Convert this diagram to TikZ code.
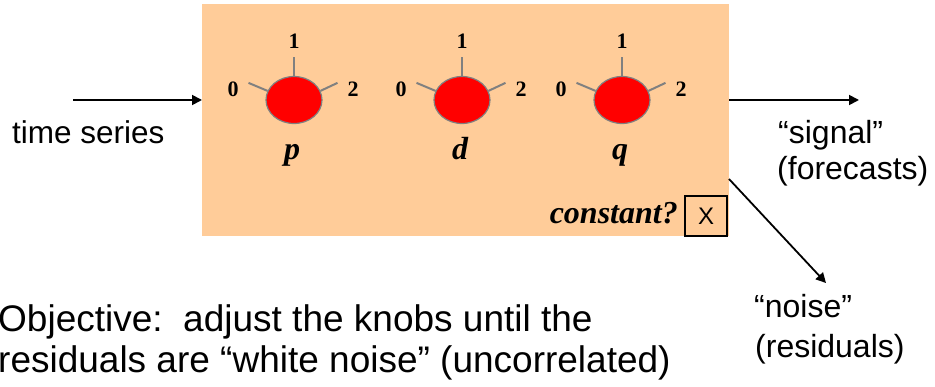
\documentclass[tikz,border=0pt]{standalone}
\usepackage{fontspec}
\setmainfont{Liberation Serif}
\newfontfamily\arialf{Liberation Sans}
\usetikzlibrary{arrows.meta,shapes.geometric}
\definecolor{boxorange}{HTML}{FFCC99}
\definecolor{knobred}{HTML}{FF0000}
\definecolor{knobgray}{HTML}{808080}
\begin{document}
\begin{tikzpicture}[x=1pt,y=-1pt,
  lbl/.style={inner sep=0pt, anchor=base west, font=\arialf\fontsize{32}{36}\selectfont},
  objtxt/.style={inner sep=0pt, anchor=base west, font=\arialf\fontsize{37}{41}\selectfont},
  arr/.style={line width=1.8pt, -{Triangle[length=10pt,width=10pt]}},
  knob/.style={ellipse, draw=knobgray, line width=1.2pt, fill=knobred, minimum width=56pt, minimum height=47pt, inner sep=0pt},
  tick/.style={draw=knobgray, line width=2pt},
  digit/.style={font=\bfseries\fontsize{22}{22}\selectfont, inner sep=0pt},
  var/.style={font=\bfseries\itshape\fontsize{32}{32}\selectfont, inner sep=0pt, anchor=base}]
\useasboundingbox (0,0) rectangle (935,387);
\node[fill=boxorange, minimum width=527pt, minimum height=232pt, inner sep=0pt, anchor=north west] (sys) at (202,4) {};
\foreach \n/\cx in {p/294, d/462, q/622} {
  \node[knob] (k\n) at (\cx,100) {};
  \draw[tick] (k\n.north) -- ++(0,-19);
  \draw[tick] (k\n.161) -- ++(-19,-8);
  \draw[tick] (k\n.19) -- ++(17,-8);
  \node[digit] (one\n) at (\cx,41) {1};
  \node[digit] (zero\n) at (\cx-61,89) {0};
  \node[digit] (two\n) at (\cx+59,89) {2};
  \node[var] (lab\n) at (\cx-2,160) {\n};
}
\node[font=\bfseries\itshape\fontsize{32}{32}\selectfont, inner sep=0pt, anchor=base east] (const) at (678,224) {constant?};
\node[draw, line width=2.2pt, minimum width=42pt, minimum height=40pt, inner sep=0pt, font=\arialf\fontsize{24}{24}\selectfont] (xbox) at (706,216) {X};
\node[lbl, font=\arialf\fontsize{31.5}{36}\selectfont] (ts) at (12,144) {time series};
\coordinate (inA) at (73,100);
\draw[arr] (inA) -- (inA -| sys.west);
\coordinate (outB) at (859,100);
\draw[arr] (outB -| sys.east) -- (outB);
\coordinate (nA) at (729,179);
\coordinate (nB) at (826,283);
\draw[arr] (nA) -- (nB);
\node[lbl] (sig) at (778,144) {“signal”};
\node[lbl] (fc) at (777,180) {(forecasts)};
\node[lbl] (noi) at (754,318) {“noise”};
\node[lbl] (res) at (755,358) {(residuals)};
\node[objtxt] (obj1) at (-2,332) {Objective:\ \ adjust the knobs until the};
\node[objtxt] (obj2) at (-2,373) {residuals are “white noise” (uncorrelated)};
\end{tikzpicture}
\end{document}
